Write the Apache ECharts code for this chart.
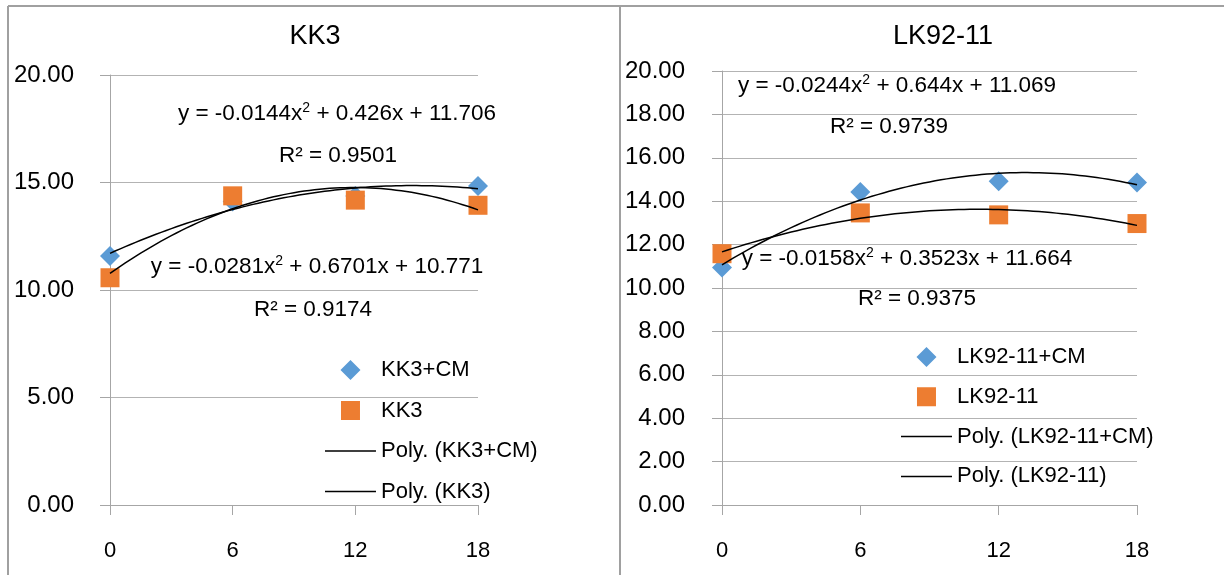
<!DOCTYPE html>
<html>
<head>
<meta charset="utf-8">
<script src="https://cdn.jsdelivr.net/npm/echarts@6/dist/echarts.min.js"></script>
<style>
html,body{margin:0;padding:0;background:#fff;}
#chart{width:1224px;height:575px;}
</style>
</head>
<body>
<div id="chart"></div>
<script>
// ---- data ----
const xValues = [0, 6, 12, 18];
const kk3cm = [11.58, 14.12, 14.37, 14.84];
const kk3 = [10.57, 14.38, 14.18, 13.94];
const lkcm = [10.95, 14.42, 14.92, 14.86];
const lk = [11.58, 13.46, 13.37, 12.97];
// trendline coefficients [a, b, c] for y = a x^2 + b x + c (as printed)
const kk3cmCoef = [-0.0144, 0.426, 11.706];
const kk3Coef = [-0.0281, 0.6701, 10.771];
const lkcmCoef = [-0.0244, 0.644, 11.069];
const lkCoef = [-0.0158, 0.3523, 11.664];
const kk3cmR2 = '0.9501', kk3R2 = '0.9174', lkcmR2 = '0.9739', lkR2 = '0.9375';
const leftNames = ['KK3+CM', 'KK3', 'Poly. (KK3+CM)', 'Poly. (KK3)'];
const rightNames = ['LK92-11+CM', 'LK92-11', 'Poly. (LK92-11+CM)', 'Poly. (LK92-11)'];
const leftTicks = {min: 0, max: 20, interval: 5};
const rightTicks = {min: 0, max: 20, interval: 2};

const FONT = '"Liberation Sans", Arial, sans-serif';
const BLUE = '#5B9BD5', ORANGE = '#ED7D31';

function pairs(ys) { return xValues.map((x, i) => [x, ys[i]]); }
function trend(coef) {
  const out = [];
  for (let x = xValues[0]; x <= xValues[xValues.length - 1] + 1e-9; x += 0.25) {
    out.push([x, coef[0] * x * x + coef[1] * x + coef[2]]);
  }
  return out;
}
function fmt(v) { return (v < 0 ? '-' : '') + Math.abs(v); }
function eqText(coef) {
  return 'y = ' + fmt(coef[0]) + 'x{sup|2} + ' + coef[1] + 'x + ' + coef[2];
}

// legend icon paths with invisible corner points to fix the box (w x 20)
function boxPts(w) { return 'M0,0L0,0.01M' + w + ',20L' + w + ',20.01'; }
function diamondIcon(w) { const c = w / 2; return 'path://' + boxPts(w) + 'M' + (c - 10) + ',10L' + c + ',0L' + (c + 10) + ',10L' + c + ',20Z'; }
function squareIcon(w) { const c = w / 2; return 'path://' + boxPts(w) + 'M' + (c - 9.5) + ',0.5H' + (c + 9.5) + 'V19.5H' + (c - 9.5) + 'Z'; }
function lineIcon(w) { return 'path://' + boxPts(w) + 'M0,9.25H' + w + 'V10.75H0Z'; }

const chart = echarts.init(document.getElementById('chart'));

function xAxis(gi) {
  return {
    type: 'value', gridIndex: gi, min: 0, max: 18, interval: 6,
    axisLine: {show: true, lineStyle: {color: '#a6a6a6', width: 1}},
    axisTick: {show: true, length: 10, lineStyle: {color: '#a6a6a6'}},
    splitLine: {show: false},
    axisLabel: {margin: 35, fontSize: 22, fontFamily: FONT, color: '#000'}
  };
}
function yAxis(gi, t, margin) {
  return {
    type: 'value', gridIndex: gi, min: t.min, max: t.max, interval: t.interval,
    axisLine: {show: true, lineStyle: {color: '#a6a6a6', width: 1}},
    axisTick: {show: true, length: 10, lineStyle: {color: '#a6a6a6'}},
    splitLine: {show: true, lineStyle: {color: '#b3b3b3', width: 1}},
    axisLabel: {margin: margin, fontSize: 24, fontFamily: FONT, color: '#000',
      formatter: v => v.toFixed(2)}
  };
}
function scatter(name, gi, data, symbol, color, size) {
  return {
    name, type: 'scatter', xAxisIndex: gi, yAxisIndex: gi, data: pairs(data),
    symbol, symbolSize: size,
    itemStyle: {color, opacity: 1}, z: 2, silent: true
  };
}
function line(name, gi, coef) {
  return {
    name, type: 'line', xAxisIndex: gi, yAxisIndex: gi, data: trend(coef),
    symbol: 'none', showSymbol: false, smooth: false,
    lineStyle: {color: '#000', width: 1.5}, itemStyle: {color: '#000'}, z: 3, silent: true
  };
}
function legend(names, left, top, itemWidth, gap) {
  const icons = [diamondIcon(itemWidth), squareIcon(itemWidth), lineIcon(itemWidth), lineIcon(itemWidth)];
  return {
    data: names.map((n, i) => ({name: n, icon: icons[i]})),
    orient: 'vertical', left, top, itemWidth, itemHeight: 20, itemGap: gap,
    selectedMode: false, padding: 0,
    textStyle: {fontSize: 22, fontFamily: FONT, color: '#000'}
  };
}
function label(text, x, y) {
  return {
    type: 'text', z: 100, silent: true,
    style: {
      x, y, text, align: 'center', verticalAlign: 'middle',
      fontSize: 22.5, fontFamily: FONT, fill: '#000', lineHeight: 25,
      rich: {sup: {fontSize: 14, lineHeight: 14, verticalAlign: 'top', fontFamily: FONT, fill: '#000'}}
    }
  };
}
function title(text, x, y) {
  return {type: 'text', z: 100, silent: true,
    style: {x, y, text, align: 'center', verticalAlign: 'middle', fontSize: 27, fontFamily: FONT, fill: '#000'}};
}
function border(x1, y1, x2, y2) {
  return {type: 'line', silent: true, z: 100, shape: {x1, y1, x2, y2}, style: {stroke: '#a0a0a0', lineWidth: 2}};
}

chart.setOption({
  animation: false,
  backgroundColor: '#fff',
  grid: [
    {left: 110, right: 746, top: 75, bottom: 70},
    {left: 722, right: 87, top: 71, bottom: 70}
  ],
  xAxis: [xAxis(0), xAxis(1)],
  yAxis: [yAxis(0, leftTicks, 36), yAxis(1, rightTicks, 37)],
  legend: [
    legend(leftNames, 325, 359, 51, 18.5),
    legend(rightNames, 901, 346, 51, 17.8)
  ],
  series: [
    scatter(leftNames[0], 0, kk3cm, 'diamond', BLUE, 20),
    scatter(leftNames[1], 0, kk3, 'rect', ORANGE, 19),
    line(leftNames[2], 0, kk3cmCoef),
    line(leftNames[3], 0, kk3Coef),
    scatter(rightNames[0], 1, lkcm, 'diamond', BLUE, 20),
    scatter(rightNames[1], 1, lk, 'rect', ORANGE, 19),
    line(rightNames[2], 1, lkcmCoef),
    line(rightNames[3], 1, lkCoef)
  ],
  graphic: [
    border(8, 6, 1224, 6),
    border(8, 6, 8, 575),
    border(620, 6, 620, 575),
    title('KK3', 315, 37),
    title('LK92-11', 943, 37),
    label(eqText(kk3cmCoef), 337, 114),
    label('R² = ' + kk3cmR2, 338, 156),
    label(eqText(kk3Coef), 317, 267),
    label('R² = ' + kk3R2, 313, 310),
    label(eqText(lkcmCoef), 897, 86),
    label('R² = ' + lkcmR2, 889, 127),
    label(eqText(lkCoef), 907, 259),
    label('R² = ' + lkR2, 917, 299)
  ]
});
</script>
</body>
</html>
